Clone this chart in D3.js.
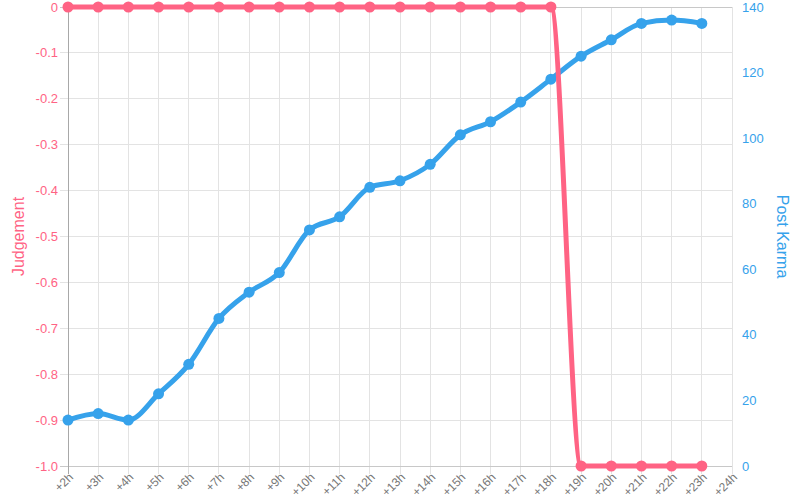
<!DOCTYPE html>
<html><head><meta charset="utf-8">
<script src="https://cdn.jsdelivr.net/npm/d3@7"></script>
<style>body{margin:0;background:#fff}svg{display:block}text{font-family:"Liberation Sans",Arial,sans-serif}</style>
</head><body><svg id="c" width="800" height="500"></svg>
<script>
const categories = ["+2h","+3h","+4h","+5h","+6h","+7h","+8h","+9h","+10h","+11h","+12h","+13h","+14h","+15h","+16h","+17h","+18h","+19h","+20h","+21h","+22h","+23h","+24h"];
const judgement = [0,0,0,0,0,0,0,0,0,0,0,0,0,0,0,0,0,-1,-1,-1,-1,-1];
const postKarma = [14,16,14,22,31,45,53,59,72,76,85,87,92,101,105,111,118,125,130,135,136,135];
const leftTicks = [0,-0.1,-0.2,-0.3,-0.4,-0.5,-0.6,-0.7,-0.8,-0.9,-1.0];
const rightTicks = [0,20,40,60,80,100,120,140];

const pink = "#ff6384", blue = "#36a2eb";
const svg = d3.select("#c");
const L = 68, R = 732, T = 7, B = 466;
const x = d3.scalePoint().domain(categories).range([L, R]);
const yL = d3.scaleLinear().domain([-1, 0]).range([B, T]);
const yR = d3.scaleLinear().domain([0, 140]).range([B, T]);

// grid
const g = svg.append("g");
g.selectAll(".vg").data(categories).join("line")
  .attr("x1", d => x(d)).attr("x2", d => x(d)).attr("y1", T).attr("y2", B + 8)
  .attr("stroke", "#e3e3e3").attr("stroke-width", 1).attr("shape-rendering","crispEdges");
g.selectAll(".hg").data(leftTicks).join("line")
  .attr("x1", L - 8).attr("x2", R).attr("y1", d => yL(d)).attr("y2", d => yL(d))
  .attr("stroke", d => (d === 0 || d === -1) ? "#c8c8c8" : "#e3e3e3").attr("stroke-width", 1).attr("shape-rendering","crispEdges");
g.append("line").attr("x1", L).attr("x2", L).attr("y1", T).attr("y2", B + 8)
  .attr("stroke", "#a8a8a8").attr("shape-rendering","crispEdges");

// left tick labels
svg.append("g").selectAll("text").data(leftTicks).join("text")
  .attr("x", L - 10).attr("y", d => yL(d)).attr("dy", "0.35em")
  .attr("text-anchor", "end").attr("fill", pink).attr("font-size", 13)
  .text(d => d === 0 ? "0" : d3.format(".1f")(d).replace("−","-"));
// right tick labels
svg.append("g").selectAll("text").data(rightTicks).join("text")
  .attr("x", R + 10).attr("y", d => yR(d)).attr("dy", "0.35em")
  .attr("text-anchor", "start").attr("fill", blue).attr("font-size", 13)
  .text(d => d);
// x labels
svg.append("g").selectAll("text").data(categories).join("text")
  .attr("transform", d => `translate(${x(d) + 3},${B + 9}) rotate(-45)`)
  .attr("text-anchor", "end").attr("dy", "0.35em").attr("fill", "#777").attr("font-size", 12)
  .text(d => d);

// axis titles
svg.append("text").attr("transform", `translate(18,${(T+B)/2}) rotate(-90)`)
  .attr("text-anchor","middle").attr("dy","0.35em").attr("fill", pink).attr("font-size", 16).text("Judgement");
svg.append("text").attr("transform", `translate(783,${(T+B)/2}) rotate(90)`)
  .attr("text-anchor","middle").attr("dy","0.35em").attr("fill", blue).attr("font-size", 16).text("Post Karma");

// lines
const series = [
  {vals: postKarma, y: yR, color: blue},
  {vals: judgement, y: yL, color: pink}
];
series.forEach(s => {
  const pts = s.vals.map((v, i) => [x(categories[i]), s.y(v)]);
  svg.append("path").attr("d", d3.line().curve(d3.curveMonotoneX)(pts))
    .attr("fill", "none").attr("stroke", s.color).attr("stroke-width", 5)
    .attr("stroke-linejoin","round");
  svg.append("g").selectAll("circle").data(pts).join("circle")
    .attr("cx", d => d[0]).attr("cy", d => d[1]).attr("r", 5.5).attr("fill", s.color);
});
</script></body></html>
